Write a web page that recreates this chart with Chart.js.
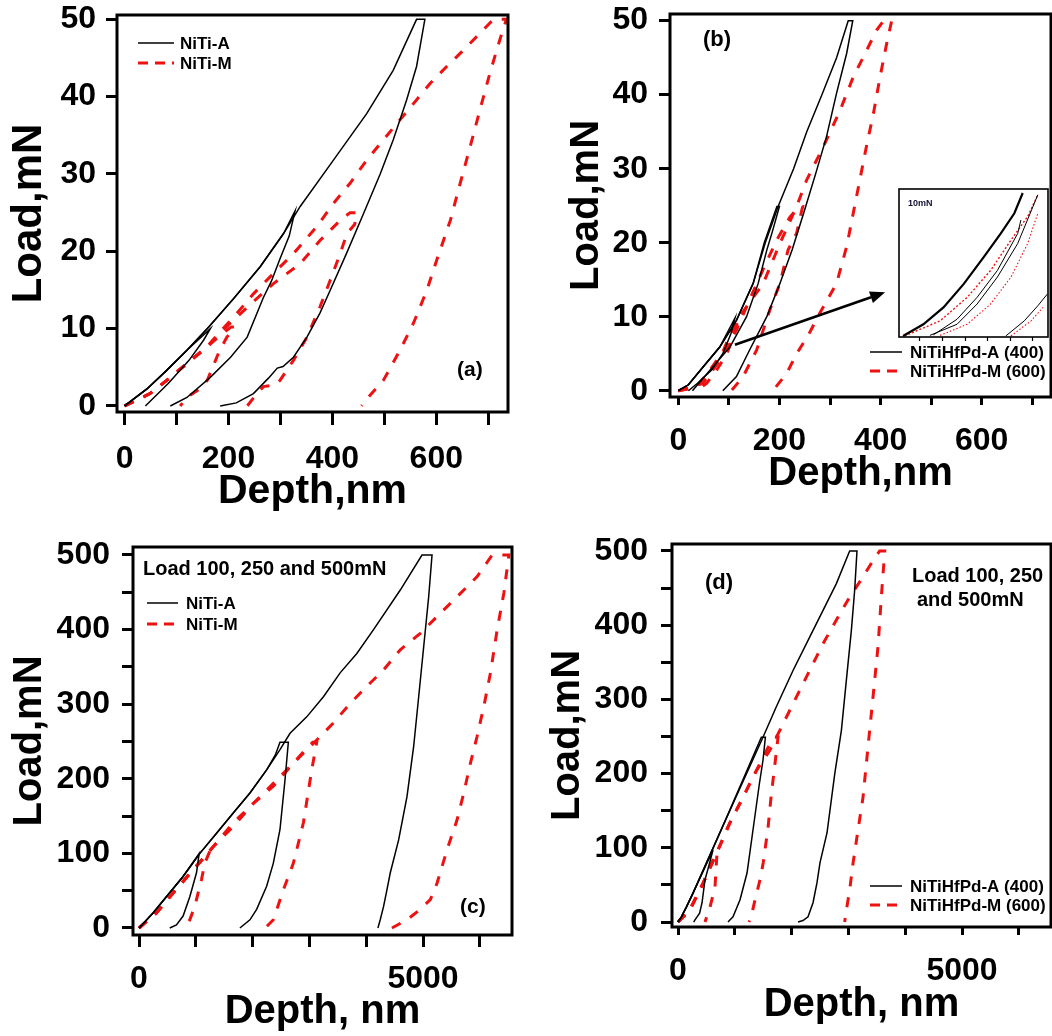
<!DOCTYPE html>
<html>
<head>
<meta charset="utf-8">
<script src="https://cdn.jsdelivr.net/npm/chart.js@4.4.0/dist/chart.umd.min.js"></script>
<style>
  html, body { margin: 0; padding: 0; background: #fff; }
  #wrap { position: relative; width: 1052px; height: 1036px; overflow: hidden; }
  #wrap canvas { position: absolute; }
</style>
</head>
<body>
<div id="wrap">
  <canvas id="chartA" width="526" height="518" style="left:0;top:0"></canvas>
  <canvas id="chartB" width="526" height="518" style="left:526px;top:0"></canvas>
  <canvas id="chartC" width="526" height="518" style="left:0;top:518px"></canvas>
  <canvas id="chartD" width="526" height="518" style="left:526px;top:518px"></canvas>
  <canvas id="inset" width="156" height="160" style="left:896px;top:186px"></canvas>
</div>
<script>
// tick labels
const depthLabelsSmall = [0, 200, 400, 600];
const depthLabelsLarge = [0, 5000];
const loadLabelsSmall = [0, 10, 20, 30, 40, 50];
const loadLabelsLarge = [0, 100, 200, 300, 400, 500];

// (a) NiTi, 10 / 25 / 50 mN cycles  [depth nm, load mN]
const aA10 = [[0,0],[43,2.2],[81,4.6],[120,7.2],[165,10],[152,8.5],[124,5.9],[84,2.9],[40,0]];
const aA25 = [[0,0],[43,2.2],[81,4.6],[120,7.2],[162,10.2],[210,13.9],[261,18],[306,22.3],[328,25.2],[317,22],[299,19],[283,16.2],[267,14],[236,8.9],[204,6.3],[165,3.7],[120,1.1],[88,0]];
const aA50 = [[0,0],[43,2.2],[81,4.6],[120,7.2],[162,10.2],[210,13.9],[261,18],[306,22.3],[338,25.8],[402,31.8],[466,37.8],[517,43.4],[562,50],[578,50],[562,43.9],[543,39.6],[517,34.4],[492,30],[460,24.9],[427,19.7],[396,15],[376,12],[351,8.9],[325,6.3],[305,5.1],[294,4.9],[277,3.6],[248,1.6],[215,0.4],[184,0]];
const aM10 = [[0,0],[49,1.6],[81,3.3],[120,5.5],[158,7.6],[185,9.2],[205,10.2],[212,10.2],[197,8.9],[183,7.2],[175,5.9],[159,3.3],[140,2],[120,1.1],[107,0]];
const aM25 = [[0,0],[49,1.6],[81,3.3],[120,5.5],[158,7.6],[200,10.5],[248,13.5],[286,15.8],[338,18.4],[376,21.4],[415,24],[434,25],[447,25],[443,23.5],[428,22.3],[415,19.7],[396,16.3],[376,12.8],[351,8.9],[325,5.9],[299,3.3],[290,2.7],[267,2.5],[250,1.2],[236,0]];
const aM50 = [[0,0],[49,1.6],[81,3.3],[120,5.5],[158,7.6],[184,9.6],[210,11.5],[248,14.5],[286,17.1],[325,19.7],[370,23.2],[402,26.2],[434,28.8],[466,31.8],[498,34.4],[530,37],[556,39.1],[588,41.7],[620,43.9],[652,46],[684,48.2],[710,50],[735,50],[722,47.3],[703,43],[684,38.3],[665,33.5],[646,28.8],[627,24],[601,18.9],[582,15],[556,10.7],[530,7.2],[498,3.3],[466,0.9],[456,0]];

// (b) NiTiHfPd
const bA10 = [[0,0],[20,0.8],[49,3.2],[82,5.9],[112,9.8],[104,7.7],[88,5],[66,2.8],[38,1],[20,0]];
const bA25 = [[0,0],[20,0.8],[49,3.2],[82,5.9],[115,9.5],[148,14.5],[170,20],[195,24.9],[200,24.9],[186,21.5],[175,19],[158,14.5],[135,10],[102,5.9],[68,3.2],[33,0.4],[28,0]];
const bA50 = [[0,0],[20,0.8],[49,3.2],[82,5.9],[115,9.5],[148,14.5],[172,20],[198,25],[228,30],[254,35],[284,40],[313,45],[336,50],[345,50],[333,45.6],[313,40.2],[293,34.3],[272,29.4],[248,24],[225,19],[201,14.5],[175,10],[141,5.5],[115,1.9],[88,0]];
const bM10 = [[0,0],[36,0.5],[63,2.8],[89,5.4],[115,9.6],[119,9.8],[109,7.3],[96,5],[76,2.8],[56,1],[36,0]];
const bM25 = [[0,0],[49,1],[82,4.1],[115,8.2],[141,12.3],[167,16.3],[195,20.4],[221,23.5],[240,24.9],[246,24.9],[234,21.3],[217,19],[201,14.5],[181,10.9],[155,5.5],[128,1.9],[105,0]];
const bM50 = [[0,0],[36,0.5],[63,2.8],[89,5],[119,9.8],[168,14.5],[201,19.9],[234,24.9],[254,28.5],[287,33],[320,37.9],[346,42.4],[366,45.1],[392,48.7],[406,50],[422,50],[412,46.9],[399,42.4],[386,37.5],[372,33],[359,28.5],[346,24],[333,19.5],[313,14.5],[280,10.5],[257,7.5],[234,5],[214,2.3],[187,0]];

// (c) NiTi, 100 / 250 / 500 mN
const cA100 = [[0,0],[247,20],[482,42],[776,69],[1059,100],[1012,74],[894,42],[776,16],[659,4],[541,0]];
const cA250 = [[0,0],[247,20],[482,42],[776,69],[1071,100],[1365,127],[1659,154],[1953,181],[2247,212],[2400,232],[2482,249],[2629,249],[2571,199],[2482,132],[2365,87],[2247,56],[2071,25],[1953,11],[1776,0]];
const cA500 = [[0,0],[247,20],[482,42],[776,69],[1071,100],[1365,127],[1659,154],[1953,181],[2247,212],[2482,239],[2659,261],[2953,283],[3247,310],[3541,342],[3835,368],[4129,400],[4600,453],[4982,500],[5159,500],[5100,444],[5012,377],[4924,310],[4835,243],[4718,176],[4571,118],[4424,74],[4365,51],[4306,29],[4247,11],[4206,0]];
const cM100 = [[0,0],[306,20],[600,47],[953,78],[1218,100],[1247,103],[1159,87],[1100,65],[1041,47],[982,29],[894,11],[806,0]];
const cM250 = [[0,0],[306,20],[600,47],[953,78],[1306,109],[1659,136],[2012,167],[2365,194],[2718,221],[2953,241],[3060,249],[3129,249],[3041,212],[2894,141],[2718,87],[2541,51],[2365,11],[2247,2],[2071,0]];
const cM500 = [[0,0],[306,20],[600,47],[953,78],[1306,109],[1659,141],[2012,167],[2365,190],[2718,221],[3129,252],[3424,275],[3718,301],[4012,324],[4306,346],[4600,373],[4953,395],[5306,422],[5600,444],[5953,471],[6218,500],[6512,500],[6424,449],[6306,400],[6188,342],[6071,297],[5953,257],[5835,221],[5718,181],[5600,145],[5424,105],[5247,60],[5129,38],[4953,25],[4718,11],[4453,0]];

// (d) NiTiHfPd, 100 / 250 / 500 mN
const dA100 = [[0,0],[59,7],[147,20],[264,39],[616,97],[540,75],[475,57],[423,26],[380,12],[299,3],[276,0]];
const dA250 = [[0,0],[59,7],[147,20],[264,39],[822,135],[1467,249],[1538,249],[1496,218],[1430,185],[1320,124],[1215,66],[1092,30],[968,7],[880,0]];
const dA500 = [[0,0],[59,7],[147,20],[264,39],[822,135],[1496,249],[1731,290],[2025,339],[2318,384],[2553,420],[2788,456],[3022,500],[3151,500],[3110,447],[3052,393],[2964,326],[2876,258],[2760,200],[2623,120],[2500,80],[2447,53],[2377,26],[2289,7],[2200,2],[2113,0]];
const dM100 = [[0,0],[205,16],[440,52],[640,88],[687,94],[651,47],[563,20],[475,0]];
const dM250 = [[0,0],[205,16],[440,52],[675,92],[909,133],[1144,168],[1379,204],[1555,231],[1690,249],[1761,249],[1708,214],[1640,170],[1585,127],[1500,80],[1444,57],[1356,30],[1290,8],[1250,0]];
const dM500 = [[0,0],[205,16],[440,52],[675,92],[909,133],[1144,168],[1379,204],[1614,231],[1849,267],[2083,303],[2318,339],[2553,375],[2788,407],[3022,438],[3257,465],[3433,487],[3550,500],[3640,500],[3580,438],[3521,371],[3433,303],[3345,236],[3257,168],[3169,124],[3081,79],[3022,43],[2964,16],[2934,0]];

// inset of (b), 10 mN close-up
const insA1 = [[42.5,0.07],[51.5,0.86],[60.4,2.0],[69.4,3.59],[78.3,5.41],[85.8,7.0],[91.8,8.36],[95.5,9.73]];
const insA2 = [[55.9,0.14],[66.4,1.2],[75.3,2.68],[84.3,4.5],[93.3,7.0],[94.7,7.9]];
const insA3 = [[54.4,0.11],[66.4,0.86],[75.3,2.23],[84.3,4.05],[93.3,6.32],[102.2,9.61]];
const insA4 = [[88.0,0.07],[96.2,1.09],[102.2,2.11],[106.4,2.9]];
const insM1 = [[43.2,0.07],[58.9,1.09],[70.9,2.68],[81.3,4.5],[90.3,6.55],[97.7,8.14],[102.2,9.61]];
const insM2 = [[58.9,0.11],[70.9,0.86],[81.3,2.23],[90.3,4.05],[97.7,6.32],[102.2,8.36]];
const insM3 = [[90.3,0.07],[99.2,1.09],[104.5,2.0]];

const FONT = "'Liberation Sans', Arial, Helvetica, sans-serif";
const BLACK = '#000000';
const RED = '#ee1111';

function lines(list, dashed, width, dash) {
  return list.map(pts => ({
    data: pts.map(p => ({ x: p[0], y: p[1] })),
    showLine: true,
    pointRadius: 0,
    borderColor: dashed ? RED : BLACK,
    borderWidth: width || (dashed ? 3 : 1.5),
    borderDash: dashed ? (dash || [10, 11]) : [],
    tension: 0,
    fill: false
  }));
}

const notes = {
  id: 'notes',
  afterDraw(chart, args, opts) {
    const { ctx, chartArea: ca } = chart;
    ctx.save();
    ctx.strokeStyle = BLACK;
    ctx.lineWidth = opts.frameWidth || 3;
    ctx.setLineDash([]);
    ctx.strokeRect(ca.left, ca.top, ca.right - ca.left, ca.bottom - ca.top);

    if (opts.legend) {
      const lg = opts.legend;
      lg.items.forEach((it, i) => {
        const y = ca.top + lg.y + i * lg.gap;
        ctx.beginPath();
        ctx.strokeStyle = it.color;
        ctx.lineWidth = it.width;
        ctx.setLineDash(it.dash);
        ctx.moveTo(ca.left + lg.x0, y);
        ctx.lineTo(ca.left + lg.x1, y);
        ctx.stroke();
        ctx.setLineDash([]);
        ctx.fillStyle = BLACK;
        ctx.font = 'bold ' + lg.size + 'px ' + FONT;
        ctx.textAlign = 'left';
        ctx.textBaseline = 'middle';
        ctx.fillText(it.label, ca.left + lg.tx, y + 1);
      });
    }

    (opts.texts || []).forEach(t => {
      ctx.fillStyle = t.color || BLACK;
      ctx.font = 'bold ' + t.size + 'px ' + FONT;
      ctx.textAlign = 'left';
      ctx.textBaseline = 'middle';
      ctx.fillText(t.text, ca.left + t.x, ca.top + t.y);
    });

    if (opts.arrow) {
      const a = opts.arrow;
      const xs = chart.scales.x, ys = chart.scales.y;
      const x1 = xs.getPixelForValue(a.from[0]), y1 = ys.getPixelForValue(a.from[1]);
      const x2 = xs.getPixelForValue(a.to[0]), y2 = ys.getPixelForValue(a.to[1]);
      const ang = Math.atan2(y2 - y1, x2 - x1);
      const hl = 15, hw = 6;
      const bx = x2 - hl * Math.cos(ang), by = y2 - hl * Math.sin(ang);
      ctx.strokeStyle = BLACK;
      ctx.fillStyle = BLACK;
      ctx.lineWidth = 2.6;
      ctx.beginPath();
      ctx.moveTo(x1, y1);
      ctx.lineTo(bx, by);
      ctx.stroke();
      ctx.beginPath();
      ctx.moveTo(x2, y2);
      ctx.lineTo(bx + hw * Math.sin(ang), by - hw * Math.cos(ang));
      ctx.lineTo(bx - hw * Math.sin(ang), by + hw * Math.cos(ang));
      ctx.closePath();
      ctx.fill();
    }
    ctx.restore();
  }
};

// ticks on every multiple of step inside the axis range
function onStep(step) {
  return s => {
    const out = [];
    for (let k = Math.ceil(s.min / step - 1e-9); k * step <= s.max + 1e-9; k++) out.push({ value: k * step });
    s.ticks = out;
  };
}

function axes(c) {
  return {
    x: {
      type: 'linear',
      min: c.xMin, max: c.xMax,
      afterBuildTicks: onStep(c.xStep),
      afterFit: s => { s.height = c.xH; s.paddingLeft = 0; s.paddingRight = 0; },
      ticks: {
        stepSize: c.xStep, autoSkip: false, maxRotation: 0, maxTicksLimit: 40,
        padding: c.xPad, color: BLACK,
        font: { family: FONT, size: 32, weight: 'bold' },
        callback: v => c.xLabels.includes(v) ? String(v) : ''
      },
      grid: { drawOnChartArea: false, drawTicks: true, tickLength: c.xTl, tickWidth: 3, tickColor: BLACK },
      border: { display: false },
      title: {
        display: true, text: c.xTitle, color: BLACK,
        font: { family: FONT, size: c.xTitleSize, weight: 'bold' },
        padding: { top: 0, bottom: c.xTitlePad }
      }
    },
    y: {
      type: 'linear',
      min: c.yMin, max: c.yMax,
      afterBuildTicks: onStep(c.yStep),
      afterFit: s => { s.width = c.yW; s.paddingTop = 0; s.paddingBottom = 0; },
      ticks: {
        stepSize: c.yStep, autoSkip: false, maxTicksLimit: 40,
        padding: c.yPad, color: BLACK,
        font: { family: FONT, size: 32, weight: 'bold' },
        callback: v => c.yLabels.includes(v) ? String(v) : ''
      },
      grid: { drawOnChartArea: false, drawTicks: true, tickLength: c.yTl, tickWidth: 3, tickColor: BLACK },
      border: { display: false },
      title: {
        display: true, text: 'Load,mN', color: BLACK,
        font: { family: FONT, size: c.yTitleSize, weight: 'bold' },
        padding: { top: c.yTitlePad, bottom: 0 }
      }
    }
  };
}

function panel(id, c, datasets, noteOpts) {
  return new Chart(document.getElementById(id), {
    type: 'scatter',
    data: { datasets },
    options: {
      responsive: false,
      animation: false,
      events: [],
      layout: { padding: { left: 0, top: c.padTop, right: c.padRight, bottom: 0 } },
      scales: axes(c),
      plugins: { legend: { display: false }, tooltip: { enabled: false }, notes: noteOpts }
    },
    plugins: [notes]
  });
}

const legendNiTi = [
  { label: 'NiTi-A', color: BLACK, width: 1.5, dash: [] },
  { label: 'NiTi-M', color: RED, width: 3, dash: [10, 7] }
];
const legendHf = [
  { label: 'NiTiHfPd-A (400)', color: BLACK, width: 1.5, dash: [] },
  { label: 'NiTiHfPd-M (600)', color: RED, width: 3, dash: [10, 7] }
];

panel('chartA', {
  padTop: 15, padRight: 18, yW: 117, xH: 106,
  xMin: -14.6, xMax: 738, xStep: 100, xLabels: depthLabelsSmall, xTl: 13, xPad: 15,
  xTitle: 'Depth,nm', xTitleSize: 41, xTitlePad: 2,
  yMin: -0.78, yMax: 50.56, yStep: 10, yLabels: loadLabelsSmall, yTl: 11, yPad: 10,
  yTitleSize: 42, yTitlePad: 4
}, [...lines([aA10, aA25, aA50], false), ...lines([aM10, aM25, aM50], true)], {
  legend: { x0: 21, x1: 57, tx: 63, y: 28, gap: 20, size: 17, items: legendNiTi },
  texts: [{ text: '(a)', x: 340, y: 355, size: 21 }]
});

panel('chartB', {
  padTop: 14, padRight: 1, yW: 144, xH: 121,
  xMin: -16.4, xMax: 737, xStep: 100, xLabels: depthLabelsSmall, xTl: 8, xPad: 17,
  xTitle: 'Depth,nm', xTitleSize: 40, xTitlePad: 20,
  yMin: -0.85, yMax: 50.9, yStep: 10, yLabels: loadLabelsSmall, yTl: 11, yPad: 11,
  yTitleSize: 40, yTitlePad: 37
}, [...lines([bA10, bA25, bA50], false), ...lines([bM10, bM25, bM50], true)], {
  legend: { x0: 200, x1: 232, tx: 240, y: 338, gap: 19, size: 17, items: legendHf },
  texts: [{ text: '(b)', x: 33, y: 26, size: 22 }],
  arrow: { from: [112, 6.2], to: [409, 13.3] }
});

panel('chartC', {
  padTop: 29, padRight: 14, yW: 133, xH: 101,
  xMin: -106, xMax: 6567, xStep: 1000, xLabels: depthLabelsLarge, xTl: 12, xPad: 13,
  xTitle: 'Depth, nm', xTitleSize: 40, xTitlePad: 0,
  yMin: -9.4, yMax: 510.7, yStep: 50, yLabels: loadLabelsLarge, yTl: 11, yPad: 12,
  yTitleSize: 40, yTitlePad: 6
}, [...lines([cA100, cA250, cA500], false), ...lines([cM100, cM250, cM500], true)], {
  legend: { x0: 14, x1: 45, tx: 53, y: 56, gap: 21, size: 17, items: legendNiTi },
  texts: [
    { text: 'Load 100, 250 and 500mN', x: 10, y: 22, size: 20 },
    { text: '(c)', x: 327, y: 360, size: 21 }
  ]
});

panel('chartD', {
  padTop: 26, padRight: 1, yW: 146, xH: 109,
  xMin: -106, xMax: 6567, xStep: 1000, xLabels: depthLabelsLarge, xTl: 8, xPad: 17,
  xTitle: 'Depth, nm', xTitleSize: 40, xTitlePad: 7,
  yMin: -6.7, yMax: 509.4, yStep: 50, yLabels: loadLabelsLarge, yTl: 11, yPad: 13,
  yTitleSize: 40, yTitlePad: 18
}, [...lines([dA100, dA250, dA500], false), ...lines([dM100, dM250, dM500], true)], {
  legend: { x0: 198, x1: 230, tx: 238, y: 342, gap: 19, size: 17, items: legendHf },
  texts: [
    { text: 'Load 100, 250', x: 240, y: 32, size: 20 },
    { text: 'and 500mN', x: 245, y: 56, size: 20 },
    { text: '(d)', x: 33, y: 39, size: 22 }
  ]
});

// inset
new Chart(document.getElementById('inset'), {
  type: 'scatter',
  data: {
    datasets: [
      ...lines([insA1], false, 2.2),
      ...lines([insA2, insA3, insA4], false, 1),
      ...lines([insM1], true, 1.4, [2, 2]),
      ...lines([insM2, insM3], true, 1.1, [1.5, 2])
    ]
  },
  options: {
    responsive: false,
    animation: false,
    events: [],
    layout: { padding: { left: 3, top: 3, right: 4, bottom: 0 } },
    scales: {
      x: {
        type: 'linear', min: 40.7, max: 106.7,
        afterBuildTicks: onStep(10),
        afterFit: s => { s.height = 9; s.paddingLeft = 0; s.paddingRight = 0; },
        ticks: { stepSize: 10, font: { size: 1 }, padding: 0, callback: () => '' },
        grid: { drawOnChartArea: false, drawTicks: true, tickLength: 4, tickWidth: 1.2, tickColor: BLACK },
        border: { display: false }
      },
      y: { type: 'linear', min: 0, max: 10, display: false }
    },
    plugins: {
      legend: { display: false },
      tooltip: { enabled: false },
      notes: { frameWidth: 1.6, texts: [{ text: '10mN', x: 9, y: 15, size: 9, color: '#111133' }] }
    }
  },
  plugins: [{
    id: 'insetBg',
    beforeDraw(chart) {
      const { ctx, chartArea: ca } = chart;
      ctx.save();
      ctx.fillStyle = '#fff';
      ctx.fillRect(ca.left, ca.top, ca.right - ca.left, ca.bottom - ca.top);
      ctx.restore();
    }
  }, notes]
});
</script>
</body>
</html>
